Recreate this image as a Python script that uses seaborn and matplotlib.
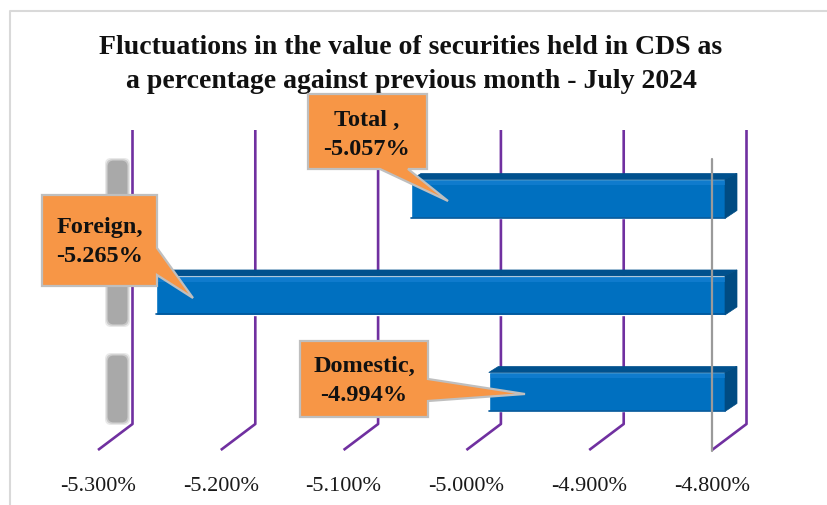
import numpy as np
import pandas as pd
import matplotlib
matplotlib.use("Agg")
import matplotlib.pyplot as plt
import seaborn as sns
from matplotlib.transforms import Affine2D
from matplotlib.patches import Polygon, FancyBboxPatch
from matplotlib.lines import Line2D

# ---------------- data ----------------
categories = ["Total", "Foreign", "Domestic"]
values = [-5.057, -5.265, -4.994]
label_names = ["Total ,", "Foreign,", "Domestic,"]
ticks = [-5.3, -5.2, -5.1, -5.0, -4.9, -4.8]
tick_labels = ["-5.300%", "-5.200%", "-5.100%", "-5.000%", "-4.900%", "-4.800%"]
title = ("Fluctuations in the value of securities held in CDS as\n"
         "a percentage against previous month - July 2024")

# ---------------- style ----------------
W, H = 827, 506
sns.set_theme(style="white")
plt.rcParams["font.family"] = ["Liberation Serif", "DejaVu Serif"]

BAR = "#0070C0"
BAR_TOP = "#00518E"
BAR_SIDE = "#004B82"
BAR_HI = "#1A84D6"
GRID = "#7030A0"
ORANGE = "#F79646"

fig = plt.figure(figsize=(W / 100, H / 100), dpi=100)
PX = Affine2D().scale(1, -1).translate(0, H)  # top-left pixel coordinates


def axrect(l, t, r, b):
    return [l / W, 1 - b / H, (r - l) / W, (b - t) / H]


# front axis (tick labels) -- maps the front edge of the 3D floor
ax_front = fig.add_axes(axrect(98, 130, 712, 451))
ax_front.set_xlim(ticks[0], ticks[-1])
ax_front.set_ylim(0, 1)
ax_front.set_xticks(ticks)
ax_front.set_xticklabels(tick_labels, fontsize=16, color="#1a1a1a")
ax_front.set_yticks([])
ax_front.tick_params(axis="x", length=0, pad=19)
for s in ax_front.spines.values():
    s.set_visible(False)
ax_front.patch.set_alpha(0)
ax_front.set_zorder(0)

# bar axis (bars sit at mid-depth of the 3D box)
ax = fig.add_axes(axrect(113, 130, 725, 425))
df = pd.DataFrame({"cat": categories, "val": values})
sns.barplot(data=df, x="val", y="cat", orient="h", color=BAR, saturation=1,
            width=0.404, ax=ax, zorder=3)
ax.set_xlim(ticks[0], ticks[-1] - 2 / 1228)
ax.set_ylim(2.332, -0.725)
ax.set_xlabel("")
ax.set_ylabel("")
ax.set_xticks([])
ax.set_yticks([])
for s in ax.spines.values():
    s.set_visible(False)
ax.patch.set_alpha(0)
ax.set_zorder(1)

# ---------------- background: outer border, ghost wall, gridlines ----------------
fig.add_artist(Line2D([10, 10, W], [H, 12, 12], transform=PX, color="#D9D9D9", lw=1.5, zorder=-5))

for (y0, y1) in [(162, 325), (357, 423)]:
    for k, a in enumerate([0.25, 0.45, 0.9]):
        pad = 3 - k * 1.3
        ax_front.add_patch(FancyBboxPatch((108 - pad, y0 - pad), 19 + 2 * pad, (y1 - y0) + 2 * pad,
                                          boxstyle="round,pad=0,rounding_size=6", transform=PX,
                                          facecolor="#A6A6A6", edgecolor="none", alpha=a,
                                          clip_on=False, zorder=1))

for t in ticks:
    fx = ax_front.transData.transform((t, 0))[0]
    bx = fx + 34.5
    ax_front.add_line(Line2D([bx, bx, fx], [131, 425, 451], transform=PX, color=GRID,
                             lw=1.9, clip_on=False, zorder=2, solid_capstyle="butt"))

# ---------------- 3D faces of the bars ----------------
dx, dy = 12, -6
right_clip = 725
for p in ax.patches:
    bb = p.get_bbox()
    (x0, y0), (x1, y1) = ax.transData.transform([(bb.x0, bb.y0), (bb.x1, bb.y1)])
    L = min(x0, x1)
    R = min(max(x0, x1), right_clip)
    T = H - max(y0, y1)
    B = H - min(y0, y1)
    fig.add_artist(Polygon([(L, T), (L + dx * 0.8, T + dy), (R + dx, T + dy), (R, T)],
                           closed=True, transform=PX, facecolor=BAR_TOP, edgecolor=BAR_TOP,
                           lw=0.5, zorder=3))
    fig.add_artist(Polygon([(R, T), (R + dx, T + dy), (R + dx, B + dy - 2), (R, B)],
                           closed=True, transform=PX, facecolor=BAR_SIDE, edgecolor=BAR_SIDE,
                           lw=0.5, zorder=3))
    fig.add_artist(Polygon([(L + 1, T + 1.5), (R, T + 1.5), (R, T + 6), (L + 1, T + 6)],
                           closed=True, transform=PX, facecolor=BAR_HI, edgecolor="none",
                           alpha=0.6, zorder=3))
    fig.add_artist(Line2D([L, R], [B - 0.5, B - 0.5], transform=PX, color="#00569A", lw=1.2, zorder=3))

# front vertical axis line at -4.8
fx_end = ax_front.transData.transform((ticks[-1], 0))[0]
fig.add_artist(Line2D([fx_end, fx_end], [160, 452], transform=PX, color="#9A9A9A", lw=1.6, zorder=4))

# ---------------- callouts ----------------
callouts = {
    "Total": dict(poly=[(308, 95), (427, 95), (427, 170), (408, 170), (448, 202),
                        (380, 170), (308, 170)], text=(367, 135), ls=1.55),
    "Foreign": dict(poly=[(42, 196), (157, 196), (157, 249), (193, 299), (157, 276),
                          (157, 287), (42, 287)], text=(100, 242), ls=1.55),
    "Domestic": dict(poly=[(300, 342), (428, 342), (428, 380), (525, 395), (428, 402),
                           (428, 418), (300, 418)], text=(364, 381), ls=1.45),
}
for cat, name, val in zip(categories, label_names, values):
    c = callouts[cat]
    fig.add_artist(Polygon(c["poly"], closed=True, transform=PX, facecolor=ORANGE,
                           edgecolor="#BFBFBF", lw=1.6, zorder=6, joinstyle="miter"))
    fig.text(c["text"][0], c["text"][1], f"{name}\n{val:.3f}%", transform=PX,
             ha="center", va="center", fontsize=17.5, fontweight="bold", color="#111111",
             linespacing=c["ls"], zorder=7)

# ---------------- title ----------------
fig.text(411, 64.5, title, transform=PX, ha="center", va="center", fontsize=20,
         fontweight="bold", color="#111111", linespacing=1.45)

fig.savefig("out.png", dpi=100)
